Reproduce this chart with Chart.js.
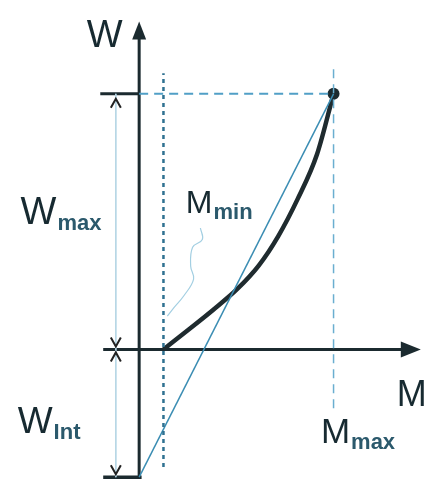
<!DOCTYPE html>
<html>
<head>
<meta charset="utf-8">
<script src="https://cdn.jsdelivr.net/npm/chart.js@4"></script>
<style>
  html, body { margin: 0; padding: 0; background: #fff; }
  #wrap { width: 428px; height: 491px; }
</style>
</head>
<body>
<div id="wrap"><canvas id="wmChart"></canvas></div>
<script>
// Key values (M along x, W along y)
const M_MIN = 1;
const M_MAX = 8;
const W_MAX = 2;
const W_INT = -1;

// Loading curve from (M_min, 0) to (M_max, W_max)
const curveM = [1, 2.04, 3.04, 4.04, 4.92, 5.72, 6.52, 7.32, 8];
const curveW = [0, 0.156, 0.309, 0.473, 0.656, 0.885, 1.176, 1.527, 2];

// Wavy leader from the M_min label to the curve start
const leaderM = [2.52, 2.6, 2.2, 2.12, 2.24, 1.84, 1.4, 1.16];
const leaderW = [0.95, 0.86, 0.8, 0.65, 0.55, 0.42, 0.32, 0.26];

// Axis / guide extents
const mAxis = [-1.48, 10.85];
const wAxis = [W_INT, 2.44];
const topTickM = [-1.6, 0];
const botTickM = [-1.48, 0.1];
const dimM = -0.96;
const mMinGuideW = [-0.92, 2.16];
const mMaxGuideW = [-0.46, 2.21];

const ink = '#1b2a2f';
const pts = (ms, ws) => ms.map((m, i) => ({ x: m, y: ws[i] }));
const seg = (a, b) => [a, b];

const font = '"Liberation Sans", Arial, sans-serif';
const labels = [
  { main: 'W', sub: '', m: -2.16, w: 2.366, size: 38 },
  { main: 'W', sub: 'max', m: -4.88, w: 0.985, size: 38 },
  { main: 'M', sub: 'min', m: 1.92, w: 1.069, size: 32 },
  { main: 'W', sub: 'Int', m: -5.0, w: -0.656, size: 37 },
  { main: 'M', sub: '', m: 10.6, w: -0.443, size: 36 },
  { main: 'M', sub: 'max', m: 7.48, w: -0.733, size: 35 }
];

const decor = {
  id: 'decor',
  afterDatasetsDraw(chart) {
    const { ctx, scales: { x, y } } = chart;
    const px = m => x.getPixelForValue(m);
    const py = w => y.getPixelForValue(w);
    ctx.save();

    // axis arrow heads
    ctx.fillStyle = ink;
    const head = (bx, by, dx, dy, len, half) => {
      ctx.beginPath();
      ctx.moveTo(bx + dx * len, by + dy * len);
      ctx.lineTo(bx - dy * half, by + dx * half);
      ctx.lineTo(bx + dy * half, by - dx * half);
      ctx.closePath();
      ctx.fill();
    };
    head(px(0), py(wAxis[1]) + 2, 0, -1, 18, 7);
    head(px(mAxis[1]) - 2, py(0), 1, 0, 20, 8);

    // dimension chevrons
    ctx.strokeStyle = '#222';
    ctx.lineWidth = 2;
    const chev = (cx, tipY, dir) => {
      ctx.beginPath();
      ctx.moveTo(cx - 5, tipY - dir * 9);
      ctx.lineTo(cx, tipY);
      ctx.lineTo(cx + 5, tipY - dir * 9);
      ctx.stroke();
    };
    const dx = px(dimM);
    chev(dx, py(W_MAX) + 5, -1);
    chev(dx, py(0) - 3, 1);
    chev(dx, py(0) + 3, -1);
    chev(dx, py(W_INT) - 3, 1);

    // labels
    ctx.textBaseline = 'alphabetic';
    ctx.textAlign = 'left';
    labels.forEach(l => {
      const lx = px(l.m), ly = py(l.w);
      ctx.font = l.size + 'px ' + font;
      ctx.fillStyle = '#172a31';
      ctx.fillText(l.main, lx, ly);
      if (l.sub) {
        const wMain = ctx.measureText(l.main).width;
        ctx.font = 'bold 22px ' + font;
        ctx.fillStyle = '#2b596c';
        ctx.fillText(l.sub, lx + wMain + 1, ly + 6);
      }
    });
    ctx.restore();
  }
};

const line = (data, color, width, extra) => Object.assign({
  data, borderColor: color, borderWidth: width, showLine: true,
  pointRadius: 0, fill: false, tension: 0
}, extra || {});

new Chart(document.getElementById('wmChart').getContext('2d'), {
  type: 'scatter',
  data: {
    datasets: [
      line(pts(leaderM, leaderW), '#a3cfe2', 1.2, { tension: 0.4 }),
      line(seg({ x: dimM, y: W_MAX }, { x: dimM, y: W_INT }), '#b7d6e5', 1),
      line(seg({ x: M_MIN, y: mMinGuideW[0] }, { x: M_MIN, y: mMinGuideW[1] }), '#2f7191', 2.5, { borderDash: [4, 4] }),
      line(seg({ x: M_MAX, y: mMaxGuideW[0] }, { x: M_MAX, y: mMaxGuideW[1] }), '#6aaed0', 1.5, { borderDash: [9, 6] }),
      line(seg({ x: 0, y: W_MAX }, { x: M_MAX, y: W_MAX }), '#509fc6', 2, { borderDash: [9, 6] }),
      line(seg({ x: 0, y: W_INT }, { x: M_MAX, y: W_MAX }), '#3b8db3', 1.5),
      line(pts(curveM, curveW), '#1f2b2f', 4.5, { cubicInterpolationMode: 'monotone' }),
      line(seg({ x: 0, y: wAxis[0] }, { x: 0, y: wAxis[1] }), ink, 3),
      line(seg({ x: mAxis[0], y: 0 }, { x: mAxis[1], y: 0 }), ink, 3),
      line(seg({ x: topTickM[0], y: W_MAX }, { x: topTickM[1], y: W_MAX }), ink, 3),
      line(seg({ x: botTickM[0], y: W_INT }, { x: botTickM[1], y: W_INT }), ink, 3.5),
      {
        data: [{ x: M_MAX, y: W_MAX }],
        pointRadius: 6, pointBackgroundColor: ink, pointBorderWidth: 0
      }
    ]
  },
  options: {
    responsive: true,
    maintainAspectRatio: false,
    animation: false,
    layout: { padding: 0 },
    plugins: { legend: { display: false }, tooltip: { enabled: false } },
    scales: {
      x: { type: 'linear', min: -5.48, max: 11.64, display: false },
      y: { type: 'linear', min: -1.061, max: 2.687, display: false }
    }
  },
  plugins: [decor]
});
</script>
</body>
</html>
